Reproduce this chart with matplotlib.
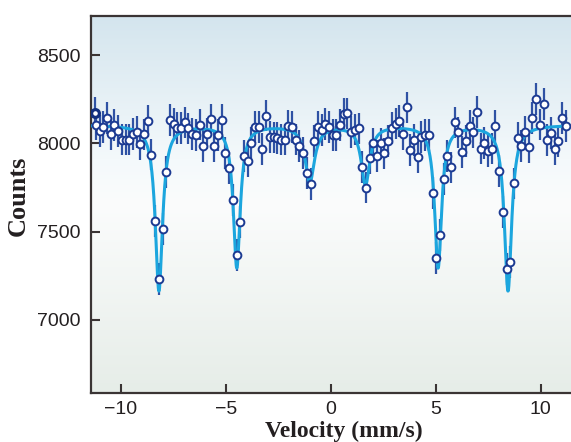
import numpy as np
import matplotlib.pyplot as plt
from matplotlib.colors import LinearSegmentedColormap

# --- data ---
v_start, v_end = -11.19, 11.19          # velocity range of the 128 channels (mm/s)
counts = [
    8107, 8071, 8094, 8145, 8052, 8103, 8071, 8022, 8022, 8022,
    8052, 8066, 7994, 8051, 8126, 7937, 7560, 7229, 7514, 7839,
    8132, 8109, 8088, 8088,
    8119, 8085, 8052, 8047, 8107, 7986, 8056, 8136, 7985, 8047,
    8132, 7947, 7862, 7679, 7365, 7554, 7928, 7901, 8005, 8092,
    8094, 7969, 8158, 8037, 8034, 8032,
    8022, 8022, 8098, 8094, 8022, 7985, 7947, 7834, 7768, 8013,
    8094, 8075, 8109, 8094, 8047, 8047, 8104, 8166, 8170, 8066,
    8079, 8085, 7868, 7749, 7919, 8000, 7928, 8000, 7943, 8013,
    8089, 8113, 8128, 8051, 8204, 7962, 8019, 7924, 8038, 8047,
    8047, 7720, 7348, 7479, 7798, 7928, 7864, 8119, 8062, 7953,
    8015, 8100, 8062, 8177, 7971, 8004, 7958, 7971, 8100, 7845,
    7609, 7286, 7326, 7773, 8032, 7987, 8066, 7977, 8145, 8251,
    8107, 8223, 8019, 8060, 7968, 8013, 8145, 8100,
]
extra_point = (-11.24, 8175)            # darker overlapping point at the left edge
err = 90                                # error bar half-length (counts)

# sextet fit
baseline = 8105
line_pos = [-8.19, -4.48, -1.00, 1.65, 5.11, 8.44]
line_depth = [940, 807, 318, 335, 807, 940]
line_fwhm = [0.42, 0.40, 0.55, 0.50, 0.40, 0.42]

velocity = np.linspace(v_start, v_end, len(counts))
v_fit = np.linspace(-11.44, 11.44, 1500)
fit = np.full_like(v_fit, baseline, dtype=float)
for x0, d, w in zip(line_pos, line_depth, line_fwhm):
    g = w / 2
    fit -= d * g**2 / ((v_fit - x0)**2 + g**2)

plt.rcParams['font.family'] = ['Liberation Sans', 'DejaVu Sans']

fig = plt.figure(figsize=(5.71, 4.42), dpi=100)
ax = fig.add_axes([90.7 / 571, 1 - 392.7 / 442, 1 - 90.7 / 571, (392.7 - 15.7) / 442])

# background gradient: light blue at top -> white -> pale grey-green at bottom
cmap = LinearSegmentedColormap.from_list(
    'bg', [(0.0, '#e6ede8'), (0.5, '#fbfcfc'), (0.62, '#f4f9fb'), (1.0, '#d4e5ee')])
grad = np.linspace(0, 1, 256).reshape(-1, 1)
ax.imshow(grad, extent=[0, 1, 0, 1], transform=ax.transAxes, origin='lower',
          aspect='auto', cmap=cmap, zorder=0)

ax.errorbar(velocity, counts, yerr=err, fmt='none', ecolor='#2f52a4',
            elinewidth=1.6, capsize=0, zorder=2)
ax.errorbar([extra_point[0]], [extra_point[1]], yerr=err, fmt='none',
            ecolor='#2f52a4', elinewidth=1.6, capsize=0, zorder=2)
ax.plot(v_fit, fit, color='#1ca6de', lw=2.2, zorder=3)
ax.plot(velocity, counts, 'o', ms=5.6, mfc='white', mec='#1c3a92', mew=1.4, zorder=4)
ax.plot([extra_point[0]], [extra_point[1]], 'o', ms=5.6, mfc='white', mec='#12307f',
        mew=2.3, zorder=4)

ax.set_xlim(-11.44, 11.44)
ax.set_ylim(6585, 8725)
ax.set_xticks([-10, -5, 0, 5, 10])
ax.set_xticklabels(['\u221210', '\u22125', '0', '5', '10'])
ax.set_yticks([7000, 7500, 8000, 8500])

for side in ['left', 'bottom', 'top']:
    ax.spines[side].set_color('#3a3434')
    ax.spines[side].set_linewidth(1.6)
ax.spines['right'].set_visible(False)
ax.tick_params(direction='in', length=6.5, width=1.5, color='#3a3434',
               labelsize=14, labelcolor='#231f20', top=False, right=False)
ax.tick_params(axis='y', pad=7)
ax.tick_params(axis='x', pad=6)

fig.text(344 / 571, 1 - 431 / 442, 'Velocity (mm/s)', family='Liberation Serif',
         fontweight='bold', fontsize=17, ha='center', va='center', color='#231f20')
fig.text(18 / 571, 1 - 196 / 442, 'Counts', family='Liberation Serif',
         fontweight='bold', fontsize=19, ha='center', va='center', rotation=90,
         color='#231f20')

fig.savefig('out.png', dpi=100)
